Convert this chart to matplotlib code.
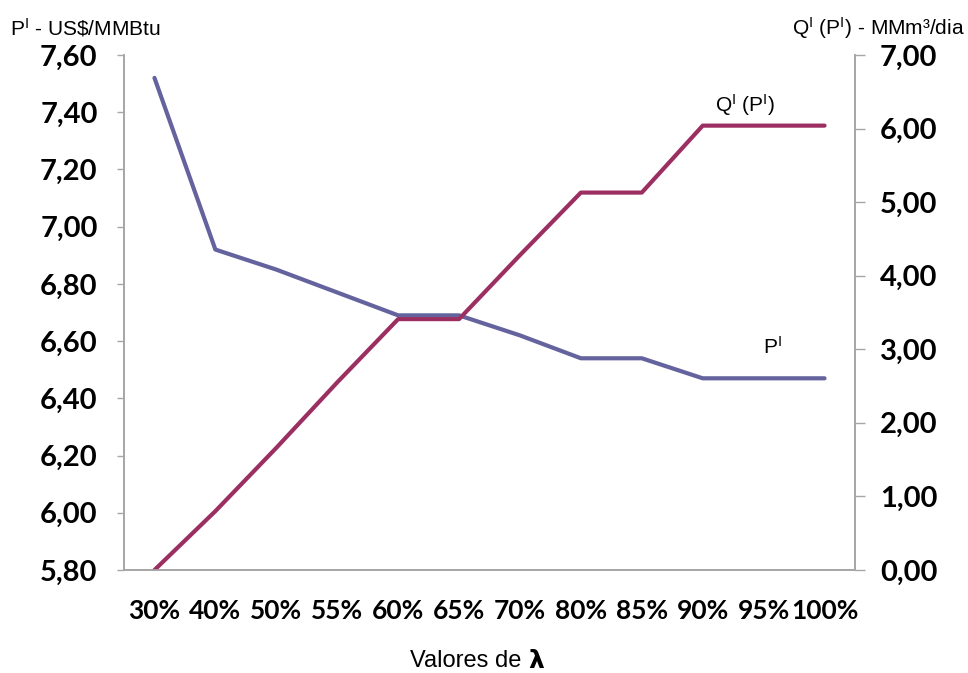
# coding: utf-8
import matplotlib
matplotlib.use('Agg')
import matplotlib.pyplot as plt
import numpy as np

plt.rcParams['mathtext.fontset'] = 'custom'
plt.rcParams['mathtext.rm'] = 'Liberation Sans'
plt.rcParams['mathtext.it'] = 'Liberation Sans'
plt.rcParams['mathtext.bf'] = 'Liberation Sans:bold'

# dados
lambdas = ['30%', '40%', '50%', '55%', '60%', '65%', '70%', '80%', '85%', '90%', '95%', '100%']
preco = [7.52, 6.92, 6.85, 6.77, 6.69, 6.69, 6.62, 6.54, 6.54, 6.47, 6.47, 6.47]
volume = [0.00, 0.80, 1.66, 2.55, 3.41, 3.41, 4.28, 5.13, 5.13, 6.04, 6.04, 6.04]

left_ticks = np.arange(5.80, 7.61, 0.20)
right_ticks = np.arange(0.0, 7.01, 1.0)

corP = '#65639E'
corQ = '#9C2F62'
corEixo = '#A6A6A6'

fig = plt.figure(figsize=(9.68, 6.73), dpi=100)
ax0 = fig.add_axes([124/968, 1 - 570/673, (855 - 124)/968, (570 - 55)/673])
ax1 = ax0.twinx()

x = np.arange(len(lambdas))

#------------------
ax0.plot(x, preco, '-', color=corP, lw=3.0, solid_capstyle='round')
ax1.plot(x, volume, '-', color=corQ, lw=3.0, solid_capstyle='round')

ax0.set_xlim(-0.5, len(lambdas) - 0.5)
ax0.set_ylim(5.80, 7.60)
ax1.set_ylim(0.0, 7.0)

ax0.set_xticks(x)
ax0.set_xticklabels(lambdas, fontfamily='Lato', fontweight='bold', fontsize=19)
ax0.tick_params(axis='x', length=0, pad=21)

ax0.set_yticks(left_ticks)
ax0.set_yticklabels(['{:.2f}'.format(v).replace('.', ',') for v in left_ticks],
                    fontfamily='Lato', fontweight='bold', fontsize=21)
ax0.tick_params(axis='y', direction='out', length=5, width=1, color=corEixo, pad=14)

ax1.set_yticks(right_ticks)
ax1.set_yticklabels(['{:.2f}'.format(v).replace('.', ',') for v in right_ticks],
                    fontfamily='Lato', fontweight='bold', fontsize=21)
ax1.tick_params(axis='y', direction='out', length=7, width=1, color=corEixo, pad=11)

for ax in (ax0, ax1):
    ax.spines['top'].set_visible(False)
    for s in ('left', 'right', 'bottom'):
        ax.spines[s].set_color(corEixo)
        ax.spines[s].set_linewidth(1.2)

#------------------
fig.text(10/968, 1 - 28/673, r'P$^{\mathrm{I}}$ - US\$/MMBtu',
         fontfamily='Liberation Sans', fontsize=15, ha='left', va='center')
fig.text(965/968, 1 - 28/673, r'Q$^{\mathrm{I}}$ (P$^{\mathrm{I}}$) - MMm³/dia',
         fontfamily='Liberation Sans', fontsize=15, ha='right', va='center')

ax1.text(9.69, 6.32, r'Q$^{\mathrm{I}}$ (P$^{\mathrm{I}}$)',
         fontfamily='Liberation Sans', fontsize=15, ha='center', va='center')
ax0.text(10.15, 6.58, r'P$^{\mathrm{I}}$',
         fontfamily='Liberation Sans', fontsize=15, ha='center', va='center')

fig.text(528/968, 1 - 661/673, 'Valores de ', fontfamily='Liberation Sans',
         fontsize=17, ha='right', va='center')
fig.text(528/968, 1 - 661/673, 'λ', fontfamily='DejaVu Sans', fontweight='bold',
         fontsize=18, ha='left', va='center')

plt.savefig('out.png', dpi=100)
